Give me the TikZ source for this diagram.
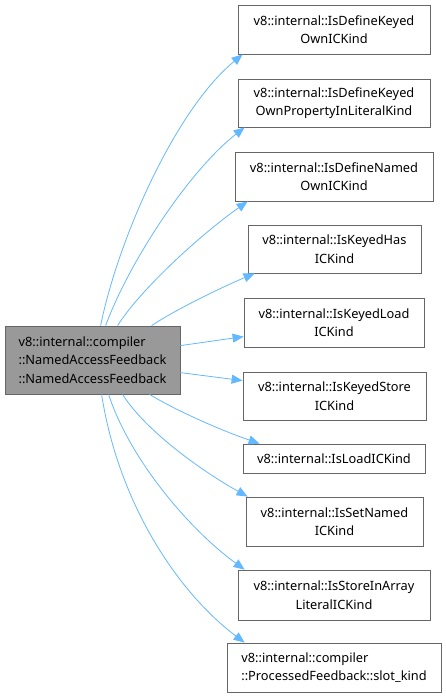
\documentclass[tikz,border=0pt]{standalone}
\usepackage{fontspec}
\setmainfont{Noto Sans}
\usetikzlibrary{arrows.meta,calc}
\definecolor{edgeblue}{HTML}{63B8FF}
\definecolor{boxgray}{HTML}{666666}
\definecolor{mainfill}{HTML}{999999}
\begin{document}
\begin{tikzpicture}[x=1pt,y=-1pt,
  box/.style={draw=boxgray,line width=0.8pt,fill=white,inner sep=0pt,align=center,font=\fontsize{12.8}{18.5}\selectfont},
  mainbox/.style={box,fill=mainfill,align=left},
  link/.style={draw=edgeblue,line width=0.8pt,-{Triangle[length=11pt,width=9pt]}}]
\useasboundingbox (0,0) rectangle (446,698);
\node[mainbox,minimum width=175pt,minimum height=68pt] (main) at (92.5,360) {v8::internal::compiler\\::NamedAccessFeedback\\::NamedAccessFeedback};
\node[box,minimum width=192pt,minimum height=49pt] (b1) at (334,29.5) {v8::internal::IsDefineKeyed\\OwnICKind};
\node[box,minimum width=192pt,minimum height=48pt] (b2) at (334,103) {v8::internal::IsDefineKeyed\\OwnPropertyInLiteralKind};
\node[box,minimum width=198pt,minimum height=49pt] (b3) at (334,176.5) {v8::internal::IsDefineNamed\\OwnICKind};
\node[box,minimum width=173pt,minimum height=48pt] (b4) at (334.5,249) {v8::internal::IsKeyedHas\\ICKind};
\node[box,minimum width=180pt,minimum height=49pt] (b5) at (334,322.5) {v8::internal::IsKeyedLoad\\ICKind};
\node[box,minimum width=183pt,minimum height=48pt] (b6) at (334.5,396) {v8::internal::IsKeyedStore\\ICKind};
\node[box,minimum width=182pt,minimum height=29pt] (b7) at (334,458.5) {v8::internal::IsLoadICKind};
\node[box,minimum width=177pt,minimum height=49pt] (b8) at (334.5,521.5) {v8::internal::IsSetNamed\\ICKind};
\node[box,minimum width=192pt,minimum height=50pt] (b9) at (334,595) {v8::internal::IsStoreInArray\\LiteralICKind};
\node[box,minimum width=214pt,minimum height=49pt,align=left] (b10) at (334,667.5) {v8::internal::compiler\\::ProcessedFeedback::slot\_kind};
% connectors
\draw[link] ($(main.north west)+(96,0)$) .. controls (118,240) and (175,110) .. ($(b1.south west)+(5,0)$);
\draw[link] ($(main.north west)+(101,0)$) .. controls (130,260) and (190,170) .. ($(b2.south west)+(7,0)$);
\draw[link] ($(main.north west)+(113,0)$) .. controls (140,290) and (200,235) .. ($(b3.south west)+(13,0)$);
\draw[link] ($(main.north west)+(147,0)$) .. controls (175,310) and (220,288) .. ($(b4.south west)+(7,0)$);
\draw[link] ($(main.north east)+(0,20)$) -- ($(b5.north west)+(0,39)$);
\draw[link] ($(main.north east)+(0,47)$) -- ($(b6.north west)+(0,9)$);
\draw[link] ($(main.south west)+(145,0)$) .. controls (175,410) and (220,430) .. ($(b7.north west)+(17,0)$);
\draw[link] ($(main.south west)+(118,0)$) .. controls (145,430) and (200,470) .. ($(b8.north west)+(2,0)$);
\draw[link] ($(main.south west)+(104,0)$) .. controls (130,460) and (190,530) .. ($(b9.north west)+(7,0)$);
\draw[link] ($(main.south west)+(97,0)$) .. controls (118,500) and (175,590) .. ($(b10.north west)+(18,0)$);
\end{tikzpicture}
\end{document}
